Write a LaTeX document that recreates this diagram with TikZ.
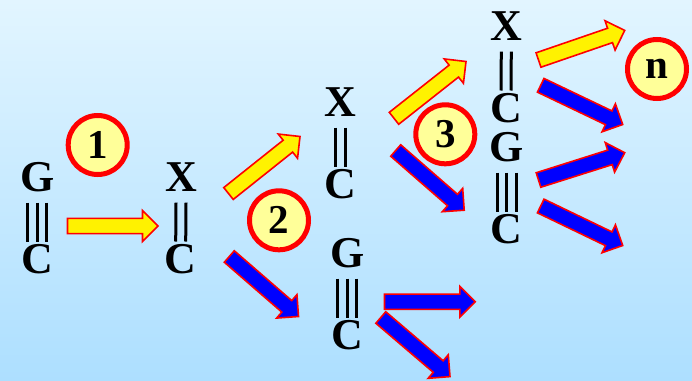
\documentclass[tikz,border=0pt]{standalone}
\usepackage{fontspec}
\setmainfont{Liberation Serif}
\usetikzlibrary{calc}
\definecolor{bgtop}{HTML}{E2F5FF}
\definecolor{bgbot}{HTML}{ADDFFF}
\definecolor{pale}{HTML}{FFFF99}
\tikzset{
  base/.style={inner xsep=0pt,inner ysep=0pt,text height=29pt,text depth=0pt,font=\fontsize{44}{44}\selectfont\bfseries,text=black},
  stepno/.style={circle,draw=red,fill=pale,line width=5pt,minimum size=59pt,inner sep=0pt,font=\fontsize{41}{41}\selectfont\bfseries,text=black},
  bond/.style={draw=black,line width=3pt},
  yarrow/.style={draw=red,fill=yellow,line width=1.6pt,miter limit=6},
  barrow/.style={draw=red,fill=blue,line width=1.6pt,miter limit=6}
}
% style, tail, tip
\newcommand\blockarrow[3]{%
  \coordinate (neck) at ($(#3)!15.5pt!(#2)$);
  \draw[#1] ($(#2)!7.6pt!90:(#3)$) -- ($(neck)!7.6pt!90:(#3)$) -- ($(neck)!15.5pt!90:(#3)$) -- (#3)
    -- ($(neck)!15.5pt!-90:(#3)$) -- ($(neck)!7.6pt!-90:(#3)$) -- ($(#2)!7.6pt!-90:(#3)$) -- cycle;
}
% upper node, lower node, offset
\newcommand\bondline[3]{\path[bond] ([xshift=#3pt,yshift=-11pt]#1.south) -- ([xshift=#3pt,yshift=2.8pt]#2.north);}
\begin{document}
\begin{tikzpicture}[x=1pt,y=-1pt]
\useasboundingbox (0,0) rectangle (692,380);
\shade[top color=bgtop,bottom color=bgbot] (0,0) rectangle (692,380);
% letters
\node[base] (g1) at (37.7,177) {G};
\node[base] (c1) at (37,259) {C};
\node[base] (x2) at (181,177) {X};
\node[base] (c2) at (180.7,259) {C};
\node[base] (x3) at (340,102) {X};
\node[base] (c3) at (340,184) {C};
\node[base] (g4) at (347.7,253) {G};
\node[base] (c4) at (347,335) {C};
\node[base] (x5) at (506.3,26) {X};
\node[base] (c5) at (506,108) {C};
\node[base] (g6) at (507,147) {G};
\node[base] (c6) at (506,229) {C};
% bonds
\path[bond] ([xshift=-10.3pt,yshift=-11pt]g1.south) -- ([xshift=-10.3pt,yshift=2.8pt]g1.south |- c1.north);
\path[bond] ([xshift=-0.7pt,yshift=-11pt]g1.south) -- ([xshift=-0.7pt,yshift=2.8pt]g1.south |- c1.north);
\path[bond] ([xshift=8.9pt,yshift=-11pt]g1.south) -- ([xshift=8.9pt,yshift=2.8pt]g1.south |- c1.north);
\foreach \o in {-10,-0.7,9}{
  \path[bond] ([xshift=\o pt,yshift=-11pt]g4.south) -- ([xshift=\o pt,yshift=2.8pt]g4.south |- c4.north);
  \path[bond] ([xshift=\o pt,yshift=-11pt]g6.south) -- ([xshift=\o pt,yshift=2.8pt]g6.south |- c6.north);
}
\foreach \a/\b in {x2/c2,x3/c3,x5/c5}{
  \foreach \o in {-5,5}{\bondline{\a}{\b}{\o}}
}
% arrow ends
\coordinate (a1s) at (67.5,226);    \coordinate (a1e) at (158,226);
\coordinate (a2s) at (228.5,193.5); \coordinate (a2e) at (300,136.5);
\coordinate (a3s) at (229.3,256.5); \coordinate (a3e) at (298.5,316.5);
\coordinate (a4s) at (394,118.3);   \coordinate (a4e) at (466,61.5);
\coordinate (a5s) at (395.7,150.5); \coordinate (a5e) at (464.2,210.2);
\coordinate (a6s) at (384.5,301.7); \coordinate (a6e) at (475.3,301.7);
\coordinate (a7s) at (380.8,317.5); \coordinate (a7e) at (450,376.6);
\coordinate (a8s) at (538.5,60);    \coordinate (a8e) at (624.7,30.4);
\coordinate (a9s) at (540.7,85.3);  \coordinate (a9e) at (622.7,124.5);
\coordinate (a10s) at (538.5,180);  \coordinate (a10e) at (624.7,152.7);
\coordinate (a11s) at (540.7,206);  \coordinate (a11e) at (622.7,245.5);
\blockarrow{yarrow}{a1s}{a1e}
\blockarrow{yarrow}{a2s}{a2e}
\blockarrow{barrow}{a3s}{a3e}
\blockarrow{yarrow}{a4s}{a4e}
\blockarrow{barrow}{a5s}{a5e}
\blockarrow{barrow}{a6s}{a6e}
\blockarrow{barrow}{a7s}{a7e}
\blockarrow{yarrow}{a8s}{a8e}
\blockarrow{barrow}{a9s}{a9e}
\blockarrow{barrow}{a10s}{a10e}
\blockarrow{barrow}{a11s}{a11e}
% step circles
\node[stepno] (n1) at (97.7,145) {1};
\node[stepno] (n2) at (279,220.3) {2};
\node[stepno] (n3) at (445.3,134.3) {3};
\node[stepno] (nn) at (657,69) {n};
\end{tikzpicture}
\end{document}
